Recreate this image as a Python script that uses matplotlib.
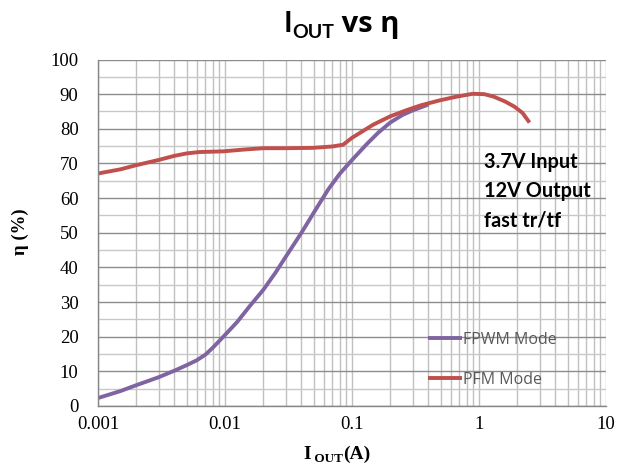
import matplotlib
matplotlib.use("Agg")
import matplotlib.pyplot as plt
from matplotlib.ticker import LogLocator, MultipleLocator, FixedLocator, NullFormatter

# ---- data ----
pfm_x = [0.001, 0.0015, 0.002, 0.003, 0.004, 0.005, 0.0063, 0.008, 0.0097, 0.014,
         0.02, 0.03, 0.049, 0.07, 0.085, 0.1, 0.147, 0.2, 0.27, 0.35,
         0.49, 0.65, 0.89, 1.1, 1.3, 1.6, 1.9, 2.2, 2.5]
pfm_y = [67.1, 68.3, 69.5, 71.0, 72.2, 72.9, 73.3, 73.4, 73.5, 74.0,
         74.4, 74.4, 74.5, 74.9, 75.4, 77.4, 81.2, 83.6, 85.4, 86.8,
         88.2, 89.2, 90.1, 90.0, 89.3, 87.9, 86.4, 84.6, 81.8]
fpwm_x = [0.001, 0.0015, 0.002, 0.003, 0.004, 0.005, 0.006, 0.007, 0.008, 0.01,
          0.0125, 0.0158, 0.02, 0.025, 0.03, 0.04, 0.053, 0.065, 0.08, 0.1,
          0.13, 0.16, 0.2, 0.25, 0.3, 0.4]
fpwm_y = [2.3, 4.3, 6.0, 8.3, 10.2, 11.8, 13.2, 14.8, 16.8, 20.5,
          24.3, 29.0, 33.5, 38.5, 43.0, 50.0, 57.3, 62.5, 67.0, 71.0,
          75.5, 78.8, 81.8, 84.0, 85.3, 87.0]
x_ticks = [0.001, 0.01, 0.1, 1, 10]
x_tick_labels = ["0.001", "0.01", "0.1", "1", "10"]
y_ticks = list(range(0, 101, 10))
series_labels = ["FPWM Mode", "PFM Mode"]
note_lines = ["3.7V Input", "12V Output", "fast tr/tf"]

W, H = 617, 471
fig = plt.figure(figsize=(W / 100, H / 100), dpi=100)
ax = fig.add_axes([98 / W, (H - 406) / H, (606 - 98) / W, (406 - 59.5) / H])

serif = "Liberation Serif"
sans = "Lato"

ax.set_xscale("log")
ax.set_xlim(0.001, 10)
ax.set_ylim(0, 100)
ax.xaxis.set_major_locator(FixedLocator(x_ticks))
ax.set_xticklabels(x_tick_labels)
ax.xaxis.set_minor_locator(LogLocator(base=10, subs=range(2, 10)))
ax.xaxis.set_minor_formatter(NullFormatter())
ax.yaxis.set_major_locator(FixedLocator(y_ticks))
ax.yaxis.set_minor_locator(MultipleLocator(5))

ax.grid(which="major", axis="y", color="#8c8c8c", lw=1.0)
ax.grid(which="minor", axis="y", color="#c8c8c8", lw=1.0)
ax.grid(which="both", axis="x", color="#c0c0c0", lw=1.0)
ax.set_axisbelow(True)

for s in ["top", "right"]:
    ax.spines[s].set_visible(False)
for s in ["left", "bottom"]:
    ax.spines[s].set_color("#868686")
    ax.spines[s].set_linewidth(1.0)

ax.tick_params(which="both", length=0)
ax.tick_params(axis="y", pad=14)
ax.tick_params(axis="x", pad=7)
for lab in ax.get_xticklabels() + ax.get_yticklabels():
    lab.set_fontfamily(serif)
    lab.set_fontsize(13.5)

l1, = ax.plot(fpwm_x, fpwm_y, color="#8064A2", lw=2.8, solid_capstyle="butt",
              solid_joinstyle="round")
l2, = ax.plot(pfm_x, pfm_y, color="#C0504D", lw=2.8, solid_capstyle="butt",
              solid_joinstyle="round")

leg = fig.legend([l1, l2], series_labels, loc="upper left",
                 bbox_to_anchor=(428 / W, 1 - 332 / H), frameon=False,
                 prop={"family": "Open Sans", "size": 11.5},
                 handlelength=2.1, handletextpad=0.1, labelspacing=1.5,
                 borderaxespad=0, borderpad=0)
for t in leg.get_texts():
    t.set_color("#595959")

ax.text((484 - 98) / 508, 1 - (191 - 59.5) / 346.5, "\n".join(note_lines),
        transform=ax.transAxes, ha="left", va="center",
        fontfamily=sans, fontweight="bold", fontsize=14.3, linespacing=1.58,
        color="black")

# title built from pieces
fig.canvas.draw()
r = fig.canvas.get_renderer()

def piece_row(x0, y, pieces):
    x = x0
    arts = []
    for txt, size, dy, fam, wt in pieces:
        t = fig.text(x / W, 1 - (y + dy) / H, txt, fontsize=size, fontfamily=fam,
                     fontweight=wt, ha="left", va="baseline")
        bb = t.get_window_extent(renderer=r)
        x += bb.width
        arts.append(t)
    return x - x0, arts

def centered_row(cx, y, pieces):
    width, arts = piece_row(0, y, pieces)
    for a in arts:
        a.remove()
    piece_row(cx - width / 2, y, pieces)

centered_row(342, 32, [("I", 21, 0, ["Lato", "DejaVu Sans"], "bold"),
                       ("OUT", 14, 6, ["Lato", "DejaVu Sans"], "bold"),
                       (" vs η", 21, 0, ["Open Sans", "DejaVu Sans"], "bold")])

centered_row(337, 459, [("I", 14, 0, serif, "bold"),
                        (" OUT", 9.5, 3, serif, "bold"),
                        ("(A)", 14, 0, serif, "bold")])

fig.text(20 / W, 1 - 232 / H, "η (%)", rotation=90, fontfamily=serif,
         fontweight="bold", fontsize=13.5, ha="center", va="center")

fig.savefig("out.png", dpi=100)
